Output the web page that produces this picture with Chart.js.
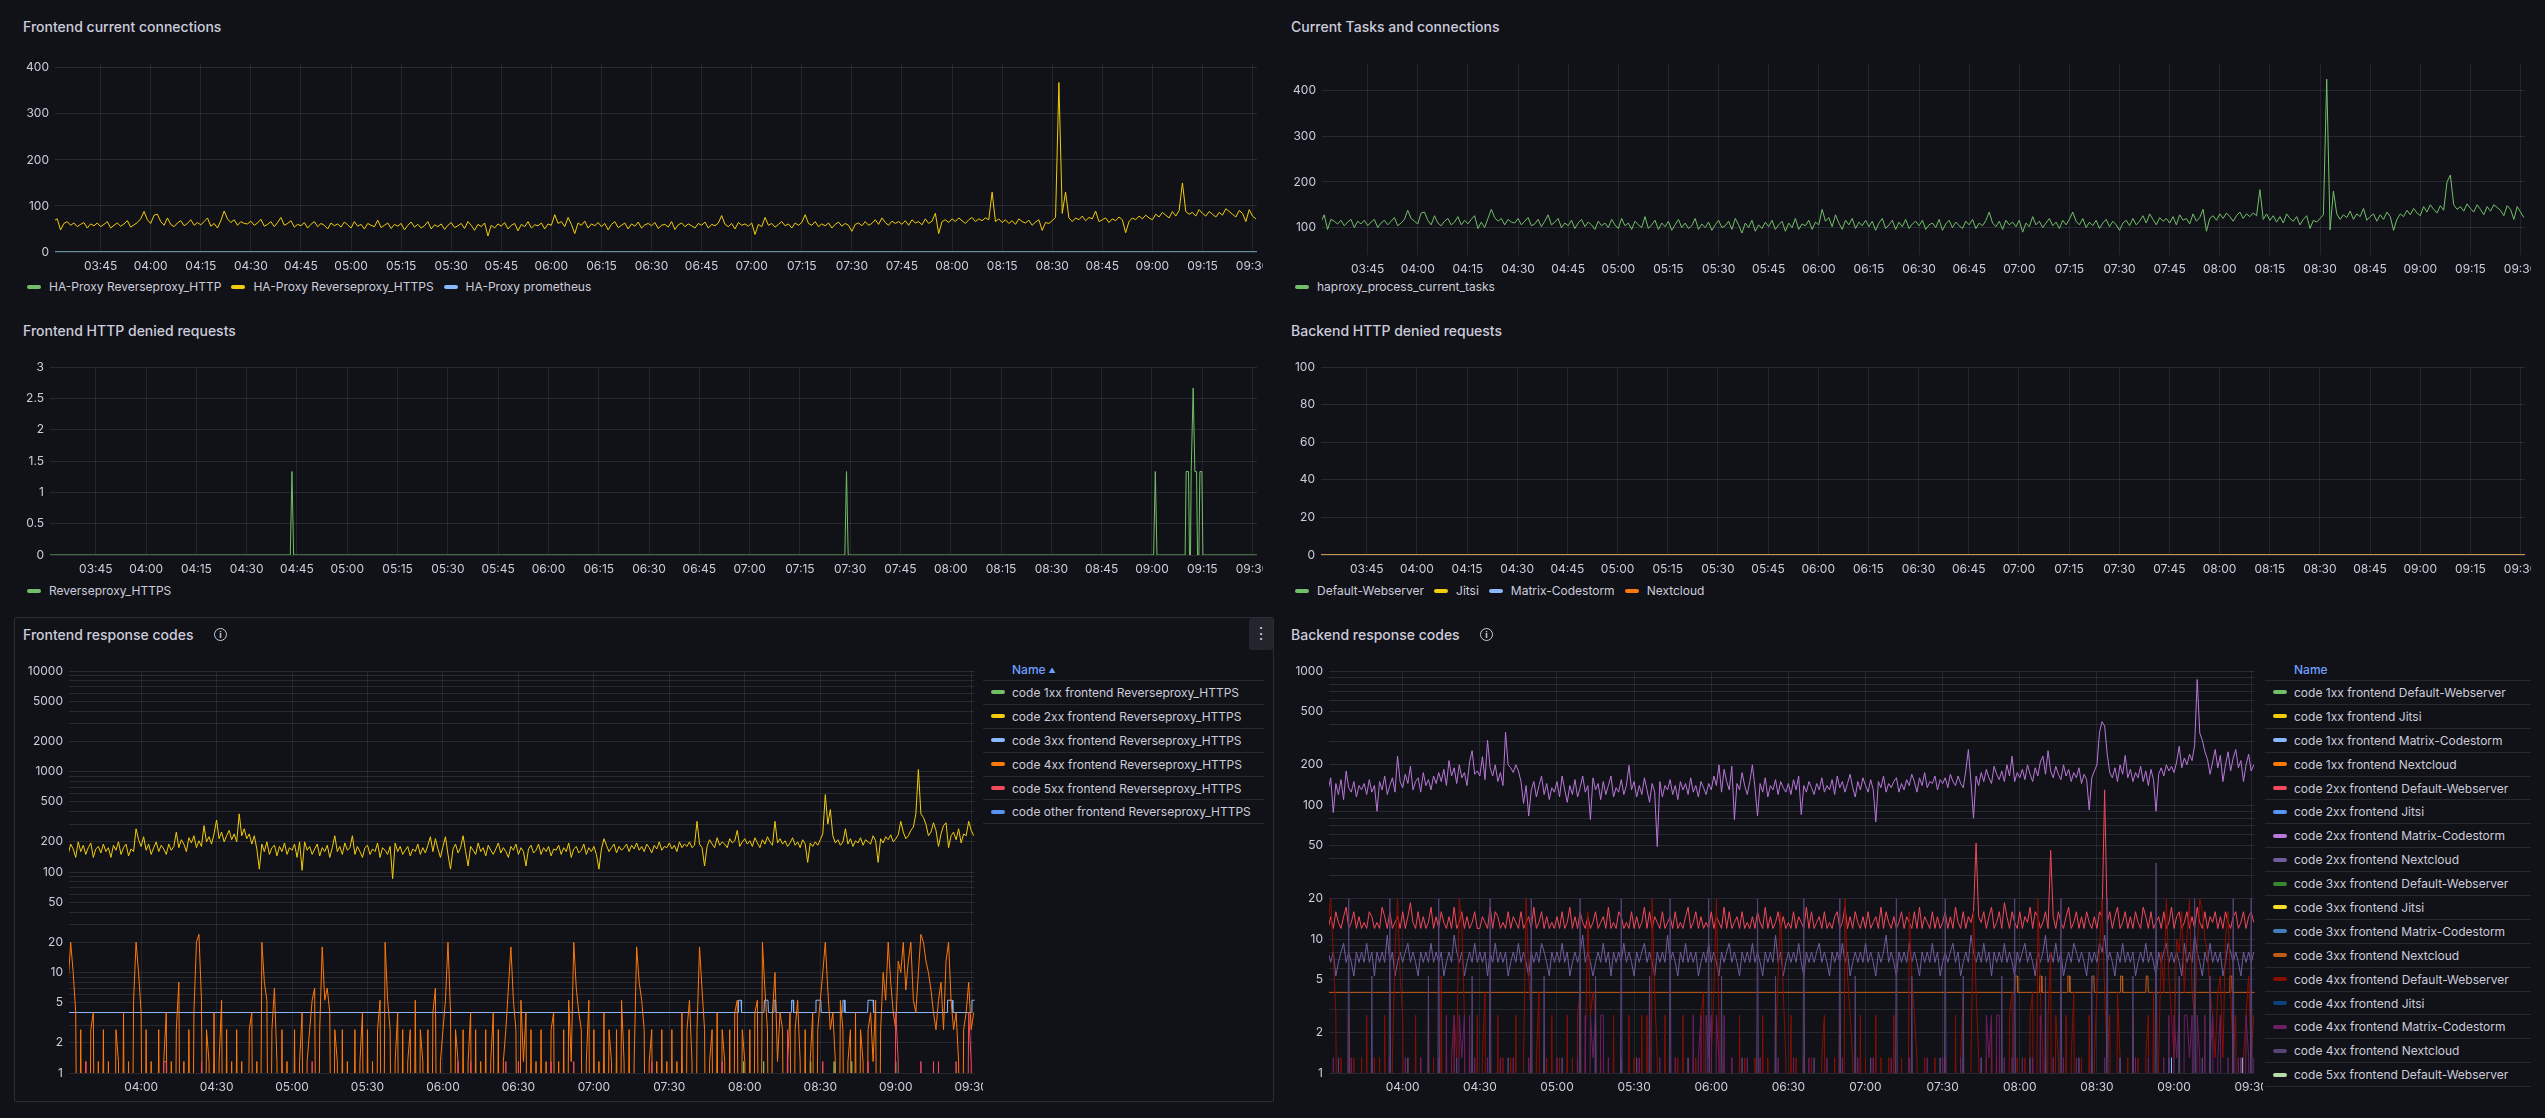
<!DOCTYPE html>
<html lang="en">
<head>
<meta charset="utf-8">
<title>HAProxy dashboard</title>
<script src="https://cdn.jsdelivr.net/npm/chart.js@4.4.1/dist/chart.umd.min.js"></script>
<style>
  html, body { margin: 0; padding: 0; background: #111217; }
  #dash { position: relative; width: 2545px; height: 1118px; overflow: hidden; font-family: Inter, "Noto Sans", sans-serif; color: #ccccdc; }
  .title { position: absolute; font-size: 14px; font-weight: 500; line-height: 18px; white-space: nowrap; }
  .info { position: absolute; width: 11px; height: 11px; border: 1.5px solid #ccccdc; border-radius: 50%; font-size: 9px; line-height: 11px; text-align: center; font-weight: 700; }
  .plot { position: absolute; overflow: hidden; }
  .legend { position: absolute; display: flex; align-items: center; font-size: 12px; line-height: 16px; white-space: nowrap; }
  .legend .item { display: flex; align-items: center; margin-right: 10px; }
  .mark { display: inline-block; width: 14px; height: 4px; border-radius: 2px; flex: none; }
  .legend .mark { margin-right: 8px; }
  .tbl { position: absolute; font-size: 12px; white-space: nowrap; overflow: hidden; }
  .tbl .head { height: 22px; line-height: 22px; color: #6e9fff; font-weight: 500; border-bottom: 1px solid rgba(204,204,220,0.12); box-sizing: border-box; }
  .tbl .head .arrow { font-size: 7px; margin-left: 3px; vertical-align: 1px; }
  .tbl .row { height: 23.9px; display: flex; align-items: center; border-bottom: 1px solid rgba(204,204,220,0.12); box-sizing: border-box; }
  .tbl .row .mark { margin-left: 8px; margin-right: 7px; }
  .hover-box { position: absolute; border: 1px solid rgba(204,204,220,0.15); border-radius: 2px; box-sizing: border-box; }
  .menu { position: absolute; background: #22252b; border-radius: 2px; font-size: 16px; text-align: center; line-height: 31px; }
</style>
</head>
<body>
<div id="dash">
  <div class="title" style="left:23px;top:18px">Frontend current connections</div>
  <div class="title" style="left:1291px;top:18px">Current Tasks and connections</div>
  <div class="title" style="left:23px;top:322px">Frontend HTTP denied requests</div>
  <div class="title" style="left:1291px;top:322px">Backend HTTP denied requests</div>

  <div class="hover-box" style="left:14px;top:617px;width:1260px;height:485px"></div>
  <div class="menu" style="left:1249px;top:618px;width:24px;height:32px">&#8942;</div>
  <div class="title" style="left:23px;top:626px">Frontend response codes</div>
  <div class="info" style="left:214px;top:628px">i</div>
  <div class="title" style="left:1291px;top:626px">Backend response codes</div>
  <div class="info" style="left:1480px;top:628px">i</div>
</div>
<script>
// time axis: minutes since midnight, one sample per minute from 03:31
const firstSample = 211;
const xMin = 211 + 1 / 3;   // 03:31:20
const xMax = 571 + 1 / 3;   // 09:31:20
const edgeTimes = [211, 572];

const quarterTicks = ['03:45', '04:00', '04:15', '04:30', '04:45', '05:00', '05:15', '05:30',
  '05:45', '06:00', '06:15', '06:30', '06:45', '07:00', '07:15', '07:30', '07:45', '08:00',
  '08:15', '08:30', '08:45', '09:00', '09:15', '09:30'];
const halfHourTicks = ['04:00', '04:30', '05:00', '05:30', '06:00', '06:30', '07:00', '07:30',
  '08:00', '08:30', '09:00', '09:30'];

const connTicks = [0, 100, 200, 300, 400];
const tasksTicks = [100, 200, 300, 400];
const feDeniedTicks = [0, 0.5, 1, 1.5, 2, 2.5, 3];
const beDeniedTicks = [0, 20, 40, 60, 80, 100];
const logLabels = [1, 2, 5, 10, 20, 50, 100, 200, 500, 1000, 2000, 5000, 10000];

// ---- Frontend current connections ----
const connHttp = [0, 0];
const connPrometheus = [0, 0];
const connHttps = [
  68,72,48,62,66,58,63,55,60,64,52,61,57,63,
  55,60,66,52,58,63,56,61,68,54,59,64,72,88,70,
  62,80,82,66,58,74,60,55,63,68,57,62,70,58,64,
  59,66,74,56,62,52,68,89,72,64,70,58,66,62,61,
  67,58,63,71,56,60,66,55,64,75,58,62,68,54,60,
  57,64,52,60,66,55,62,58,50,63,57,61,54,65,59,
  52,66,56,60,50,62,58,55,69,53,58,63,51,60,56,
  62,48,58,65,54,60,52,57,66,50,59,55,61,49,58,
  64,53,57,62,51,66,58,47,60,55,63,35,58,52,61,
  56,64,50,58,62,46,60,55,66,52,59,57,63,50,61,
  58,81,62,66,55,75,60,40,63,58,67,52,61,57,64,
  55,62,48,60,66,53,58,63,50,61,56,65,52,59,62,
  57,64,51,58,60,54,66,49,59,63,55,61,57,52,62,
  58,65,52,60,57,63,79,60,55,62,50,64,58,61,56,
  63,38,60,55,75,58,62,54,60,66,57,61,52,63,58,
  64,81,62,58,66,55,61,57,63,52,60,65,56,62,58,
  45,60,63,57,66,58,62,70,60,74,64,58,67,62,66,
  60,68,58,70,63,66,59,72,62,67,84,40,66,70,64,
  72,66,74,68,62,70,75,66,72,68,74,70,130,66,72,
  64,70,62,68,60,72,66,63,69,58,65,70,47,64,62,
  68,75,368,84,130,74,66,74,70,78,68,75,72,89,66,
  70,74,64,72,68,76,70,42,66,74,70,78,72,80,74,
  70,82,76,86,80,74,88,78,90,150,88,82,86,78,92,
  84,78,88,82,76,86,80,94,88,82,76,90,84,66,92,
  78,72
];

// ---- Current Tasks and connections ----
const currentTasks = [
  112,128,96,118,114,108,116,104,112,118,100,114,108,116,
  104,112,118,100,110,116,106,114,122,104,110,118,138,120,114,
  108,132,134,116,106,126,110,104,114,120,106,112,124,106,116,
  108,118,126,98,112,100,120,140,122,114,120,106,118,112,110,
  120,106,114,122,104,108,118,102,114,128,106,112,120,100,110,
  104,116,98,110,118,102,112,106,96,114,104,110,100,118,106,
  98,120,104,110,96,114,106,100,124,98,106,116,96,110,102,
  114,94,106,118,100,110,98,104,120,96,108,100,112,94,106,
  116,100,104,114,96,120,106,88,110,100,116,92,106,98,112,
  102,116,96,106,114,92,110,100,120,96,108,104,116,96,112,
  106,140,114,122,102,128,110,96,116,106,120,98,112,104,116,
  102,114,94,110,120,98,106,116,96,112,102,118,98,108,114,
  104,116,96,106,110,100,118,94,108,116,100,112,104,98,114,
  106,118,98,110,104,116,134,110,102,114,96,116,106,112,102,
  116,90,110,102,124,106,114,100,110,120,104,112,98,116,106,
  118,134,114,106,120,100,112,104,116,98,110,118,102,114,106,
  94,110,116,104,120,106,114,126,110,130,118,106,122,114,120,
  110,124,106,128,116,120,108,130,114,122,140,92,120,126,116,
  130,120,132,124,114,126,134,120,130,124,132,126,183,118,130,
  116,126,112,124,110,130,120,114,124,106,118,126,98,116,112,
  120,128,425,95,180,130,118,128,122,136,118,130,124,142,116,
  124,130,114,128,118,134,124,94,118,130,124,138,128,142,132,
  126,146,134,150,140,132,148,138,200,215,150,140,146,136,152,
  142,134,150,140,128,146,136,150,144,138,126,148,140,118,146,
  134,122
];

// ---- Frontend HTTP denied requests ----
const feDeniedTimes = [211, 283, 283.5, 284, 448.4, 448.9, 449.4, 540.5, 541, 541.5,
  549.9, 550.2, 550.9, 551.2, 551.5, 551.7, 552.3, 552.8, 553.3, 553.6, 554, 554.3, 554.9, 555.2, 572];
const feDeniedValues = [0, 0, 1.333, 0, 0, 1.333, 0, 0, 1.333, 0,
  0, 1.333, 1.333, 0, 0, 1.333, 2.667, 1.333, 1.333, 0, 0, 1.333, 1.333, 0, 0];

// ---- Backend HTTP denied requests ----
const beDeniedDefault = [0, 0];
const beDeniedJitsi = [0, 0];
const beDeniedMatrix = [0, 0];
const beDeniedNextcloud = [0, 0];

// ---- Frontend response codes ----
const fe1xxTimes = [211, 479, 479.5, 480, 487, 487.5, 488, 505.8, 506.2, 506.6, 515, 515.5, 516,
  522, 522.5, 523, 539.5, 540, 540.5, 572];
const fe1xxValues = [0, 0, 1.3, 0, 0, 1.3, 0, 0, 1.3, 0, 0, 1.3, 0, 0, 1.3, 0, 0, 1.3, 0, 0];
const fe2xx = [
  150,190,170,140,200,160,185,150,175,195,140,170,180,155,
  190,160,175,140,185,165,200,150,175,190,145,170,160,270,210,
  180,225,165,190,150,175,200,160,185,170,150,190,165,180,250,
  175,210,190,160,220,195,230,175,205,180,290,200,225,190,240,
  330,215,250,200,230,260,210,240,200,380,230,270,215,240,190,
  230,170,107,190,160,200,150,175,185,145,180,160,195,150,175,
  165,190,140,200,104,200,165,180,150,170,190,145,175,160,185,
  140,175,230,160,180,150,195,165,175,230,150,180,160,140,175,
  185,150,170,160,195,140,175,165,150,180,86,195,160,180,150,
  165,180,145,170,160,190,150,175,155,185,225,160,215,170,140,
  180,225,150,107,170,190,155,175,230,160,115,180,165,150,195,
  160,175,145,185,165,150,170,195,155,175,160,140,180,165,190,
  150,175,160,115,170,185,155,165,190,150,175,160,180,145,170,
  165,185,150,175,160,195,140,170,180,155,165,190,150,175,160,
  180,150,107,170,215,185,160,175,190,155,180,165,175,190,160,
  185,170,195,165,180,160,190,175,155,185,170,200,165,180,175,
  195,170,185,160,200,175,190,180,200,175,185,320,190,175,115,
  180,210,190,175,220,185,200,190,175,215,195,205,260,180,200,
  215,190,205,180,220,195,175,210,190,225,200,185,320,195,215,
  190,205,180,195,220,185,200,175,210,190,125,195,180,200,185,
  210,240,590,300,420,230,195,210,185,200,270,190,215,180,205,
  195,220,185,210,200,190,230,205,125,215,195,225,210,235,200,
  215,235,320,250,215,230,260,280,380,1050,380,350,300,230,250,
  310,260,180,240,290,310,175,230,250,210,270,195,240,230,320,
  260,230
];
const fe3xxTimes = [211, 477.3, 477.5, 478.5, 478.7, 487.6, 487.8, 489.2, 489.4, 491.4, 491.6,
  492.2, 492.4, 498.4, 498.6, 499.2, 499.4, 508.1, 508.3, 510.2, 510.4, 518.8, 519, 519.6, 519.8,
  528.8, 529, 531, 531.2, 560.4, 560.6, 562.5, 562.7, 570.1, 570.3, 572];
const fe3xxValues = [4, 4, 5.3, 5.3, 4, 4, 5.3, 5.3, 4, 4, 5.3, 5.3, 4, 4, 5.3, 5.3, 4,
  4, 5.3, 5.3, 4, 4, 5.3, 5.3, 4, 4, 5.3, 5.3, 4, 4, 5.3, 5.3, 4, 4, 5.3, 5.3];
const fe4xx = [
  8,20,10,4,0,2.7,0,1.3,0,2.7,4,0,1.3,0,
  2.7,0,1.3,0,0,2.7,1.3,0,4,0,1.3,0,5.3,20,10,
  4,0,2.7,0,1.3,0,0,2.7,0,1.3,4,0,1.3,0,2.7,
  8,0,1.3,0,2.7,0,4,20,24,5.3,0,2.7,1.3,0,4,
  0,1.3,5.3,0,2.7,0,1.3,0,2.7,0,1.3,0,0,2.7,4,
  0,1.3,0,20,8,5.3,0,2.7,7,1.3,0,2.7,0,1.3,0,
  0,2.7,0,1.3,4,0,1.3,2.7,5.3,7,0,2.7,18,5.3,7,
  4,0,2.7,1.3,0,2.7,0,1.3,0,0,2.7,0,1.3,4,0,
  2.7,0,1.3,0,2.7,5.3,0,20,5.3,2.7,0,1.3,4,0,2.7,
  0,1.3,2.7,0,5.3,0,2.7,1.3,0,2.7,0,4,7,0,1.3,
  2.7,5.3,20,4,0,2.7,1.3,0,2.7,0,1.3,4,0,2.7,0,
  1.3,0,2.7,0,1.3,4,0,2.7,0,1.3,2.7,7,18,5.3,2.7,
  0,5.3,1.3,4,0,2.7,0,1.3,0,2.7,0,1.3,0,2.7,4,
  0,1.3,0,2.7,0,5.3,1.3,20,7,4,2.7,0,1.3,5.3,0,
  2.7,0,1.3,0,4,0,2.7,1.3,0,2.7,0,5.3,1.3,0,2.7,
  0,1.3,18,8,5.3,2.7,0,1.3,2.7,0,1.3,0,2.7,0,1.3,
  0,2.7,0,1.3,0,4,0,2.7,5.3,1.3,0,2.7,18,6.7,2.7,
  0,1.3,2.7,0,4,0,2.7,1.3,0,2.7,0,4,5.3,0,2.7,
  1.3,0,2.7,0,4,5.3,0,20,6.7,2.7,0,4,10,1.3,4,
  2.7,0,1.3,4,0,2.7,5.3,1.3,0,2.7,0,1.3,4,0,2.7,
  5.3,10,20,6.7,2.7,4,1.3,0,5.3,2.7,0,1.3,2.7,0,4,
  0,2.7,1.3,0,2.7,4,1.3,5.3,0,2.7,10,5.3,20,8,4,
  2.7,13,10,20,6.7,13,20,5.3,4,10,24,20,13,10,6.7,
  4,2.7,5.3,8,2.7,13,20,5.3,2.7,4,1.3,0,2.7,4,8,
  2.7,4
];
const fe5xx = [
  0,0,0,0,0,0,0,1.3,0,0,0,0,0,0,
  0,0,0,0,0,0,0,0,0,0,0,0,0,0,0,
  0,0,0,0,0,0,0,0,0,1.3,1.3,0,0,0,0,
  0,0,0,0,0,0,0,0,0,1.3,0,0,0,0,0,
  0,0,0,0,0,0,0,0,0,0,0,0,0,0,0,
  0,0,0,0,0,0,0,0,0,0,0,0,0,0,0,
  0,0,0,0,0,0,0,0,1.3,0,0,0,0,0,0,
  0,0,0,0,0,0,0,0,0,0,0,0,0,0,0,
  0,0,0,0,0,0,0,0,0,0,0,0,0,0,0,
  0,0,0,0,0,0,0,0,0,0,0,0,0,0,0,
  0,0,0,0,0,0,1.3,0,0,0,0,1.3,0,0,0,
  0,0,0,0,0,0,0,0,0,0,1.3,0,0,0,0,
  1.3,0,0,0,0,0,0,0,0,0,0,0,0,1.3,0,
  0,0,0,0,0,0,0,1.3,0,0,0,0,0,0,0,
  0,0,0,0,0,0,0,0,0,0,0,0,0,0,0,
  0,0,0,0,0,0,0,0,1.3,0,0,0,0,0,0,
  0,0,0,0,0,0,0,0,0,0,0,0,0,0,0,
  0,0,0,0,0,0,1.3,0,0,0,0,0,0,0,0,
  0,0,0,0,0,0,0,0,0,0,0,0,0,0,0,
  0,0,2.7,0,0,0,0,0,0,0,0,0,0,0,0,
  0,1.3,0,0,0,0,0,0,0,0,0,0,0,0,0,
  0,0,0,0,1.3,0,0,0,0,0,0,0,0,0,0,
  4,1.3,0,0,0,0,0,0,0,0,1.3,0,0,0,0,
  1.3,0,1.3,0,0,0,0,0,0,1.3,0,0,0,0,4,
  1.3,0
];

// ---- Backend response codes ----
const be1xxMatrixTimes = [211, 538.7, 539, 539.4, 566.4, 566.7, 567.1, 572];
const be1xxMatrixValues = [0, 0, 1.3, 0, 0, 1.3, 0, 0];
const be2xxDefault = [
  12,14.7,12,16,13.3,12,14.7,17.3,12,13.3,16,12,14.7,12,
  13.3,12,16,14.7,12,13.3,12,17.3,14.7,12,16,12,13.3,14.7,12,
  16,12,14.7,18.7,13.3,12,16,12,14.7,12,13.3,17.3,12,14.7,12,
  16,13.3,12,14.7,12,17.3,12,13.3,16,12,14.7,12,13.3,16,12,
  12,14.7,13.3,12,17.3,12,16,14.7,12,13.3,12,16,12,14.7,13.3,
  12,16,12,13.3,14.7,12,17.3,12,13.3,16,12,14.7,12,13.3,12,
  14.7,12,16,12,13.3,17.3,12,14.7,12,16,13.3,12,14.7,12,13.3,
  16,12,13.3,14.7,12,17.3,12,13.3,12,16,14.7,12,13.3,12,16,
  12,14.7,12,13.3,17.3,12,16,12,14.7,13.3,12,16,12,13.3,14.7,
  12,16,12,13.3,12,14.7,17.3,12,13.3,16,12,14.7,12,13.3,12,
  16,12,14.7,13.3,12,17.3,12,16,12,13.3,14.7,12,16,12,13.3,
  12,14.7,12,16,13.3,12,17.3,12,14.7,12,13.3,16,12,14.7,12,
  13.3,12,16,12,14.7,13.3,12,17.3,12,16,12,13.3,14.7,12,16,
  12,13.3,12,14.7,16,12,13.3,17.3,12,14.7,12,16,13.3,12,14.7,
  12,16,12,13.3,14.7,12,17.3,12,16,13.3,12,14.7,12,13.3,16,
  12,14.7,13.3,12,16,12,17.3,12,14.7,13.3,12,16,12,14.7,12,
  13.3,16,12,14.7,12,17.3,13.3,12,16,12,14.7,13.3,16,52,14.7,
  13.3,16,12,14.7,17.3,12,13.3,16,12,18.7,14.7,12,16,13.3,12,
  16,12,14.7,13.3,17.3,12,16,14.7,12,13.3,16,12,46,14.7,12,
  16,13.3,12,14.7,17.3,12,13.3,16,12,14.7,12,16,13.3,12,14.7,
  12,16,14.7,130,13.3,16,12,14.7,17.3,12,13.3,16,12,14.7,12,
  16,13.3,12,17.3,14.7,12,16,12,13.3,14.7,12,16,12,13.3,17.3,
  12,14.7,16,12,13.3,16,12,14.7,12,17.3,13.3,12,16,12,14.7,
  13.3,16,12,14.7,12,16,13.3,12,14.7,16,12,13.3,16,12,14.7,
  16,13.3
];
const be2xxMatrix = [
  130,160,88,145,120,155,110,180,135,125,150,115,140,130,
  145,120,155,125,140,90,150,130,165,120,140,160,125,232,150,
  135,170,145,195,130,150,160,125,175,140,155,130,165,145,175,
  150,185,140,215,165,190,145,200,160,175,140,210,255,170,180,
  165,230,155,305,190,165,200,150,175,140,350,200,190,175,200,
  180,150,103,140,83,130,150,115,140,165,120,145,110,135,125,
  150,115,165,130,105,140,120,155,115,135,165,125,140,78,160,
  130,145,110,150,120,140,165,115,135,125,155,120,140,198,130,
  150,115,140,120,160,130,105,145,125,49,150,115,140,130,155,
  120,140,110,150,130,145,120,160,125,140,115,150,135,120,145,
  130,165,140,200,125,185,150,130,195,78,145,130,175,140,120,
  150,200,135,83,145,125,160,115,140,130,155,120,150,135,125,
  145,120,155,130,165,85,140,125,150,135,120,145,130,160,125,
  140,130,155,120,165,135,150,125,145,170,135,115,150,130,160,
  140,125,155,130,75,150,135,165,125,145,135,150,160,125,145,
  130,155,140,170,150,125,160,140,175,135,150,145,165,130,155,
  145,160,135,170,150,140,165,145,135,180,260,150,80,165,140,
  175,150,185,160,145,195,170,155,180,150,200,165,232,150,175,
  160,185,155,200,170,150,190,165,210,232,170,255,180,160,195,
  170,155,200,165,185,150,175,160,190,145,170,155,92,160,180,
  200,350,420,390,240,175,160,190,150,200,170,235,160,185,150,
  175,160,195,150,180,140,185,155,90,170,190,165,200,180,195,
  175,210,275,190,225,200,240,215,280,867,345,305,250,220,170,
  210,260,190,235,150,200,250,180,225,260,190,215,150,200,240,
  180,200
];
const be2xxNextcloud = [
  8,6.7,8,5.3,6.7,8,9.3,6.7,8,6.7,5.3,8,6.7,8,
  6.7,9.3,6.7,8,5.3,8,6.7,8,6.7,10.7,6.7,8,5.3,6.7,8,
  6.7,8,9.3,6.7,8,6.7,5.3,8,6.7,8,6.7,9.3,6.7,8,6.7,
  8,5.3,6.7,8,6.7,10.7,8,6.7,8,5.3,6.7,8,6.7,9.3,6.7,
  8,6.7,8,5.3,8,6.7,9.3,6.7,8,6.7,8,5.3,6.7,8,6.7,
  9.3,6.7,8,6.7,5.3,8,6.7,8,6.7,9.3,8,6.7,5.3,8,6.7,
  8,6.7,9.3,6.7,8,5.3,6.7,8,6.7,8,10.7,6.7,8,6.7,5.3,
  6.7,8,6.7,9.3,6.7,8,5.3,8,6.7,8,6.7,9.3,6.7,8,6.7,
  5.3,8,6.7,8,9.3,6.7,8,6.7,5.3,8,6.7,8,6.7,10.7,6.7,
  8,6.7,5.3,8,6.7,9.3,6.7,8,6.7,8,5.3,6.7,8,6.7,9.3,
  6.7,8,6.7,5.3,8,6.7,8,9.3,6.7,8,6.7,5.3,8,6.7,8,
  6.7,9.3,6.7,8,6.7,5.3,8,6.7,8,6.7,10.7,6.7,8,5.3,6.7,
  8,6.7,8,6.7,9.3,6.7,5.3,8,6.7,8,6.7,8,9.3,6.7,8,
  6.7,5.3,8,6.7,8,6.7,9.3,6.7,8,5.3,6.7,8,6.7,8,6.7,
  9.3,6.7,8,6.7,5.3,8,6.7,8,10.7,6.7,8,6.7,5.3,8,6.7,
  8,6.7,9.3,6.7,8,6.7,5.3,8,6.7,8,6.7,9.3,6.7,8,5.3,
  6.7,8,6.7,8,9.3,6.7,8,5.3,6.7,8,6.7,10.7,8,6.7,8,
  6.7,9.3,6.7,8,5.3,8,6.7,8,6.7,9.3,6.7,8,6.7,5.3,8,
  6.7,8,9.3,6.7,8,6.7,5.3,8,6.7,8,10.7,6.7,8,6.7,9.3,
  6.7,8,5.3,6.7,8,6.7,9.3,8,6.7,8,6.7,5.3,8,6.7,8,
  6.7,9.3,8,10.7,6.7,8,6.7,5.3,8,6.7,9.3,6.7,8,6.7,8,
  5.3,6.7,8,6.7,9.3,6.7,8,6.7,5.3,8,6.7,8,9.3,6.7,8,
  6.7,8,6.7,5.3,9.3,6.7,8,6.7,10.7,8,6.7,5.3,8,6.7,9.3,
  6.7,8,6.7,8,5.3,6.7,9.3,8,6.7,8,6.7,5.3,8,6.7,8,
  6.7,8
];
const be3xxNextcloudTimes = [211, 478, 478.2, 479, 479.2, 487.5, 487.7, 488.4, 488.6, 498.5, 498.7,
  499.3, 499.5, 507.9, 508.1, 508.8, 509, 519, 519.2, 519.8, 520, 529, 529.2, 529.8, 530,
  561.5, 561.7, 562.4, 562.6, 572];
const be3xxNextcloudValues = [4, 4, 5.3, 5.3, 4, 4, 5.3, 5.3, 4, 4, 5.3, 5.3, 4, 4, 5.3, 5.3, 4,
  4, 5.3, 5.3, 4, 4, 5.3, 5.3, 4, 4, 5.3, 5.3, 4, 4];
const be4xxDefault = [
  13,20,8,2.7,0,1.3,0,0,2.7,0,1.3,0,0,1.3,
  0,2.7,0,0,1.3,0,1.3,0,2.7,0,0,1.3,8,20,5.3,
  2.7,0,1.3,0,0,2.7,0,1.3,0,0,2.7,0,1.3,0,0,
  5.3,0,1.3,0,0,2.7,1.3,20,13,2.7,0,1.3,0,0,2.7,
  0,1.3,4,0,1.3,0,0,2.7,0,1.3,0,0,1.3,0,2.7,
  0,0,1.3,20,5.3,2.7,0,1.3,4,0,0,1.3,0,2.7,0,
  0,1.3,0,0,2.7,0,1.3,0,2.7,4,0,1.3,16,2.7,4,
  2.7,0,1.3,0,0,1.3,0,2.7,0,0,1.3,0,0,2.7,0,
  1.3,0,0,2.7,0,2.7,0,20,4,1.3,0,0,2.7,0,1.3,
  0,0,1.3,0,2.7,0,1.3,0,0,1.3,0,2.7,4,0,0,
  1.3,4,20,2.7,0,1.3,0,0,1.3,0,0,2.7,0,1.3,0,
  0,0,1.3,0,0,2.7,0,1.3,0,0,1.3,5.3,16,4,1.3,
  0,2.7,0,1.3,0,0,1.3,0,0,1.3,0,0,0,1.3,2.7,
  0,0,0,1.3,0,2.7,0,20,5.3,2.7,1.3,0,0,2.7,0,
  1.3,0,0,0,2.7,0,1.3,0,0,1.3,0,2.7,0,0,1.3,
  0,0,16,5.3,2.7,1.3,0,0,1.3,0,0,0,1.3,0,0,
  0,1.3,0,0,0,2.7,0,1.3,4,0,0,1.3,16,4,1.3,
  0,0,1.3,0,2.7,0,1.3,0,0,1.3,0,2.7,4,0,1.3,
  0,0,1.3,0,2.7,4,0,20,4,1.3,0,2.7,8,0,2.7,
  1.3,0,0,2.7,0,1.3,4,0,0,1.3,0,0,2.7,0,1.3,
  4,8,20,4,1.3,2.7,0,0,4,1.3,0,0,1.3,0,2.7,
  0,1.3,0,0,1.3,2.7,0,4,0,1.3,8,4,20,5.3,2.7,
  1.3,10,8,16,4,10,20,4,2.7,8,20,16,10,8,4,
  2.7,1.3,4,5.3,1.3,10,16,4,1.3,2.7,0,0,1.3,2.7,5.3,
  1.3,2.7
];
const be4xxMatrix = [
  0,0,1.3,0,0,0,0,0,0,1.3,0,0,0,0,
  0,0,0,1.3,0,0,0,0,0,0,1.3,0,0,0,0,
  0,1.3,0,0,0,0,0,1.3,0,0,0,0,0,0,1.3,
  0,0,2.7,0,1.3,2.7,0,2.7,1.3,2.7,0,2.7,0,1.3,0,
  0,0,0,1.3,0,0,0,0,1.3,0,0,0,0,1.3,0,
  0,0,0,0,1.3,0,0,0,0,0,1.3,0,0,0,0,
  1.3,0,0,0,0,0,0,0,1.3,0,0,2.7,0,2.7,1.3,
  2.7,0,2.7,2.7,0,1.3,0,0,0,0,1.3,0,0,0,0,
  0,0,1.3,0,0,0,0,0,0,0,1.3,0,0,0,0,
  0,1.3,0,0,0,0,0,0,2.7,0,1.3,2.7,0,2.7,1.3,
  2.7,0,2.7,1.3,0,2.7,0,0,1.3,0,0,0,0,0,1.3,
  0,0,0,0,1.3,0,0,0,0,0,0,1.3,0,0,0,
  0,0,1.3,0,0,0,0,0,1.3,0,0,0,0,0,0,
  1.3,0,0,0,0,0,1.3,0,0,0,0,0,1.3,0,0,
  0,0,0,1.3,0,0,0,0,0,0,1.3,0,0,0,0,
  0,0,1.3,0,0,0,0,0,0,1.3,0,0,0,0,0,
  1.3,0,0,0,0,0,0,1.3,0,0,0,0,0,0,0,
  1.3,0,2.7,1.3,2.7,0,2.7,2.7,0,1.3,0,0,1.3,0,0,
  0,1.3,0,0,0,1.3,0,0,2.7,0,1.3,0,0,1.3,0,
  0,0,1.3,0,0,0,0,1.3,0,0,0,0,0,1.3,0,
  0,0,0,1.3,0,0,0,0,0,1.3,0,0,0,0,0,
  1.3,0,0,0,0,1.3,0,0,0,0,0,1.3,0,2.7,0,
  2.7,1.3,2.7,0,2.7,2.7,1.3,2.7,0,2.7,1.3,0,2.7,0,1.3,
  2.7,0,1.3,2.7,0,0,1.3,0,2.7,0,1.3,0,0,2.7,1.3,
  0,1.3
];
const be4xxNextcloud = [
  0,0,0,0,1.3,0,0,0,20,0,0,0,0,0,
  0,0,0,5.3,0,0,0,0,0,0,20,0,0,0,0,
  0,0,1.3,0,0,0,0,0,0,0,5.3,0,0,0,20,
  0,0,0,0,0,0,1.3,0,0,0,0,0,5.3,0,0,
  0,0,0,0,20,0,0,0,0,0,0,1.3,0,0,0,
  0,0,0,0,0,20,0,0,0,0,5.3,0,0,0,0,
  0,0,1.3,0,0,0,0,0,0,20,0,0,0,0,0,
  5.3,0,0,0,0,0,0,0,0,0,20,0,0,0,0,
  0,1.3,0,0,0,0,5.3,0,0,0,0,0,0,0,20,
  0,0,0,0,0,0,1.3,0,0,0,0,0,0,0,20,
  0,0,0,0,5.3,0,0,0,0,0,0,0,1.3,0,0,
  0,0,0,20,0,0,0,0,0,0,5.3,0,0,0,0,
  0,0,0,0,0,0,20,0,0,0,1.3,0,0,0,0,
  0,0,0,0,0,20,0,0,0,0,0,5.3,0,0,0,
  0,0,1.3,0,0,0,0,0,0,0,0,0,20,0,0,
  0,0,0,5.3,0,0,0,0,0,0,0,0,0,0,1.3,
  0,20,0,0,0,0,0,0,5.3,0,0,0,0,0,0,
  1.3,0,0,0,0,0,0,0,5.3,0,0,0,0,20,0,
  0,0,0,0,1.3,0,0,0,0,0,5.3,0,0,0,0,
  0,20,0,0,0,0,0,0,1.3,0,0,0,0,5.3,0,
  0,0,0,0,20,0,0,0,0,1.3,0,0,0,0,5.3,
  0,0,0,0,0,0,0,0,37,0,0,0,0,1.3,0,
  0,0,5.3,0,0,0,0,0,20,0,0,1.3,0,0,5.3,
  0,0,0,0,0,0,0,0,20,0,0,1.3,0,0,0,
  20,0
];

// ---- helpers ----
const TEXT = 'rgb(204, 204, 220)';
const GRID_H = 'rgba(204, 204, 220, 0.13)';
const GRID_V = 'rgba(204, 204, 220, 0.10)';
const FONT = {family: 'Inter', size: 12};
const dash = document.getElementById('dash');

function perMinute(values) {
  return values.map((v, i) => ({x: firstSample + i, y: v}));
}
function atTimes(times, values) {
  return times.map((t, i) => ({x: t, y: values[i]}));
}
// a zero has no place on a log axis: park it far below the bottom edge so the drop is vertical
function forLog(points) {
  return points.map(p => ({x: p.x, y: p.y > 0 ? p.y : 1e-3}));
}
function toMinutes(label) {
  const [h, m] = label.split(':').map(Number);
  return h * 60 + m;
}
function fmtTime(v) {
  const h = Math.floor(v / 60), m = Math.round(v % 60);
  return String(h).padStart(2, '0') + ':' + String(m).padStart(2, '0');
}
function logGrid(max) {
  const lines = [];
  for (let dec = 1; dec < max; dec *= 10) {
    for (let s = 1; s < 10; s++) lines.push(s * dec);
  }
  lines.push(max);
  return lines;
}

function addChart(box, yAxis, xLabels, series) {
  const Y_W = 50, X_H = 24, PAD_T = 8, PAD_R = 20;
  const left = box.l - Y_W, top = box.t - PAD_T;
  const w = box.r - box.l + Y_W + PAD_R, h = box.b - box.t + PAD_T + X_H;

  const wrap = document.createElement('div');
  wrap.className = 'plot';
  Object.assign(wrap.style, {left: left + 'px', top: top + 'px', width: (box.r - left + box.clip) + 'px', height: h + 'px'});
  const canvas = document.createElement('canvas');
  canvas.width = w;
  canvas.height = h;
  wrap.appendChild(canvas);
  dash.appendChild(wrap);

  const n = series.length;
  new Chart(canvas, {
    type: 'line',
    data: {
      datasets: series.map((s, i) => ({
        label: s.name,
        data: yAxis.log ? forLog(s.data) : s.data,
        borderColor: s.color,
        borderWidth: 1,
        pointRadius: 0,
        fill: false,
        tension: 0,
        order: n - 1 - i   // later series on top, like Grafana
      }))
    },
    options: {
      responsive: false,
      animation: false,
      events: [],
      layout: {padding: {top: PAD_T, right: PAD_R, left: 0, bottom: 0}},
      plugins: {legend: {display: false}, tooltip: {enabled: false}},
      scales: {
        x: {
          type: 'linear', bounds: 'data', min: xMin, max: xMax,
          afterFit: s => { s.height = X_H; },
          afterBuildTicks: s => { s.ticks = xLabels.map(l => ({value: toMinutes(l)})); },
          grid: {color: GRID_V, drawTicks: false},
          border: {display: false},
          ticks: {autoSkip: false, maxRotation: 0, padding: 7, color: TEXT, font: FONT, callback: v => fmtTime(v)}
        },
        y: {
          type: yAxis.log ? 'logarithmic' : 'linear', bounds: 'data', min: yAxis.min, max: yAxis.max,
          afterFit: s => { s.width = Y_W; },
          afterBuildTicks: s => { s.ticks = yAxis.ticks.map(v => ({value: v})); },
          grid: {color: GRID_H, drawTicks: false},
          border: {display: false},
          ticks: {
            autoSkip: false, padding: 6, color: TEXT, font: FONT,
            callback: v => (yAxis.labels && !yAxis.labels.includes(v)) ? '' : String(v)
          }
        }
      }
    }
  });
}

function addLegend(x, y, series) {
  const el = document.createElement('div');
  el.className = 'legend';
  el.style.left = x + 'px';
  el.style.top = y + 'px';
  series.forEach(s => {
    const item = document.createElement('div');
    item.className = 'item';
    item.innerHTML = '<span class="mark" style="background:' + s.color + '"></span>' + s.name;
    el.appendChild(item);
  });
  dash.appendChild(el);
}

function addTable(x, y, width, height, series, sorted) {
  const el = document.createElement('div');
  el.className = 'tbl';
  Object.assign(el.style, {left: x + 'px', top: y + 'px', width: width + 'px', height: height + 'px'});
  el.innerHTML = '<div class="head" style="padding-left:29px">Name' + (sorted ? '<span class="arrow">&#9650;</span>' : '') + '</div>' +
    series.map(s => '<div class="row"><span class="mark" style="background:' + s.color + '"></span>' + s.name + '</div>').join('');
  dash.appendChild(el);
}

// ---- panels ----
const connSeries = [
  {name: 'HA-Proxy Reverseproxy_HTTP', color: '#73BF69', data: atTimes(edgeTimes, connHttp)},
  {name: 'HA-Proxy Reverseproxy_HTTPS', color: '#F2CC0C', data: perMinute(connHttps)},
  {name: 'HA-Proxy prometheus', color: '#8AB8FF', data: atTimes(edgeTimes, connPrometheus)}
];
addChart({l: 55, t: 58, r: 1257, b: 252, clip: 6}, {min: 0, max: 410, ticks: connTicks}, quarterTicks, connSeries);
addLegend(27, 279, connSeries);

const tasksSeries = [
  {name: 'haproxy_process_current_tasks', color: '#73BF69', data: perMinute(currentTasks)}
];
addChart({l: 1322, t: 58, r: 2525, b: 255, clip: 6}, {min: 40, max: 460, ticks: tasksTicks}, quarterTicks, tasksSeries);
addLegend(1295, 279, tasksSeries);

const feDeniedSeries = [
  {name: 'Reverseproxy_HTTPS', color: '#73BF69', data: atTimes(feDeniedTimes, feDeniedValues)}
];
addChart({l: 50, t: 362, r: 1257, b: 555, clip: 6}, {min: 0, max: 3, ticks: feDeniedTicks}, quarterTicks, feDeniedSeries);
addLegend(27, 583, feDeniedSeries);

const beDeniedSeries = [
  {name: 'Default-Webserver', color: '#73BF69', data: atTimes(edgeTimes, beDeniedDefault)},
  {name: 'Jitsi', color: '#F2CC0C', data: atTimes(edgeTimes, beDeniedJitsi)},
  {name: 'Matrix-Codestorm', color: '#8AB8FF', data: atTimes(edgeTimes, beDeniedMatrix)},
  {name: 'Nextcloud', color: '#FF780A', data: atTimes(edgeTimes, beDeniedNextcloud)}
];
addChart({l: 1321, t: 362, r: 2525, b: 555, clip: 6}, {min: 0, max: 100, ticks: beDeniedTicks}, quarterTicks, beDeniedSeries);
addLegend(1295, 583, beDeniedSeries);

const feCodeSeries = [
  {name: 'code 1xx frontend Reverseproxy_HTTPS', color: '#73BF69', data: atTimes(fe1xxTimes, fe1xxValues)},
  {name: 'code 2xx frontend Reverseproxy_HTTPS', color: '#F2CC0C', data: perMinute(fe2xx)},
  {name: 'code 3xx frontend Reverseproxy_HTTPS', color: '#8AB8FF', data: atTimes(fe3xxTimes, fe3xxValues)},
  {name: 'code 4xx frontend Reverseproxy_HTTPS', color: '#FF780A', data: perMinute(fe4xx)},
  {name: 'code 5xx frontend Reverseproxy_HTTPS', color: '#F2495C', data: perMinute(fe5xx)},
  {name: 'code other frontend Reverseproxy_HTTPS', color: '#5794F2', data: []}
];
addChart({l: 69, t: 666, r: 975, b: 1073, clip: 8},
  {log: true, min: 1, max: 10000, ticks: logGrid(10000), labels: logLabels}, halfHourTicks, feCodeSeries);
addTable(983, 659, 281, 440, feCodeSeries, true);

const beCodeSeries = [
  {name: 'code 1xx frontend Default-Webserver', color: '#73BF69', data: []},
  {name: 'code 1xx frontend Jitsi', color: '#F2CC0C', data: []},
  {name: 'code 1xx frontend Matrix-Codestorm', color: '#8AB8FF', data: atTimes(be1xxMatrixTimes, be1xxMatrixValues)},
  {name: 'code 1xx frontend Nextcloud', color: '#FF780A', data: []},
  {name: 'code 2xx frontend Default-Webserver', color: '#F2495C', data: perMinute(be2xxDefault)},
  {name: 'code 2xx frontend Jitsi', color: '#5794F2', data: []},
  {name: 'code 2xx frontend Matrix-Codestorm', color: '#B877D9', data: perMinute(be2xxMatrix)},
  {name: 'code 2xx frontend Nextcloud', color: '#705DA0', data: perMinute(be2xxNextcloud)},
  {name: 'code 3xx frontend Default-Webserver', color: '#37872D', data: []},
  {name: 'code 3xx frontend Jitsi', color: '#FADE2A', data: []},
  {name: 'code 3xx frontend Matrix-Codestorm', color: '#447EBC', data: []},
  {name: 'code 3xx frontend Nextcloud', color: '#C15C17', data: atTimes(be3xxNextcloudTimes, be3xxNextcloudValues)},
  {name: 'code 4xx frontend Default-Webserver', color: '#890F02', data: perMinute(be4xxDefault)},
  {name: 'code 4xx frontend Jitsi', color: '#0A437C', data: []},
  {name: 'code 4xx frontend Matrix-Codestorm', color: '#6D1F62', data: perMinute(be4xxMatrix)},
  {name: 'code 4xx frontend Nextcloud', color: '#584477', data: perMinute(be4xxNextcloud)},
  {name: 'code 5xx frontend Default-Webserver', color: '#B7DBAB', data: []}
];
addChart({l: 1329, t: 666, r: 2255, b: 1073, clip: 8},
  {log: true, min: 1, max: 1000, ticks: logGrid(1000), labels: logLabels}, halfHourTicks, beCodeSeries);
addTable(2265, 659, 266, 436, beCodeSeries, false);
</script>
</body>
</html>
